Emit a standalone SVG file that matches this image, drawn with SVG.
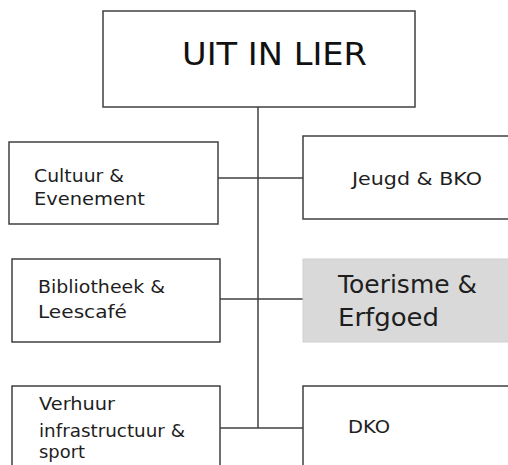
<svg xmlns="http://www.w3.org/2000/svg" width="508" height="465" viewBox="0 0 508 465">
<style>
.box{fill:#ffffff;stroke:#404040;stroke-width:1.5}
.hl{fill:#d9d9d9;stroke:#d0d0d0;stroke-width:1}
.t{font-family:"DejaVu Sans","Liberation Sans",sans-serif;font-size:18.5px;fill:#1e1e1e}
.tb{font-family:"DejaVu Sans","Liberation Sans",sans-serif;font-size:25px;fill:#1e1e1e}
.tt{font-family:"DejaVu Sans","Liberation Sans",sans-serif;font-size:32px;fill:#111111}
.c{fill:none;stroke:#404040;stroke-width:1.5}
</style>
<rect width="508" height="465" fill="#ffffff"/>
<g id="connectors">
<line class="c" x1="258" y1="107" x2="258" y2="428"/>
<line class="c" x1="218" y1="178" x2="303" y2="178"/>
<line class="c" x1="220" y1="299" x2="303" y2="299"/>
<line class="c" x1="220" y1="428" x2="303" y2="428"/>
</g>
<g id="uit-in-lier">
<rect class="box" x="103" y="11" width="312" height="96"/>
<text class="tt" x="182" y="65" textLength="185" lengthAdjust="spacingAndGlyphs">UIT IN LIER</text>
</g>
<g id="cultuur">
<rect class="box" x="9" y="142" width="209" height="82"/>
<text class="t" x="34" y="182" textLength="90" lengthAdjust="spacingAndGlyphs">Cultuur &amp;</text>
<text class="t" x="34" y="205" textLength="111" lengthAdjust="spacingAndGlyphs">Evenement</text>
</g>
<g id="jeugd">
<rect class="box" x="303" y="136" width="215" height="83"/>
<text class="t" x="352" y="185" textLength="130" lengthAdjust="spacingAndGlyphs">Jeugd &amp; BKO</text>
</g>
<g id="bibliotheek">
<rect class="box" x="12" y="259" width="208" height="83"/>
<text class="t" x="38" y="293" textLength="127" lengthAdjust="spacingAndGlyphs">Bibliotheek &amp;</text>
<text class="t" x="38" y="318" textLength="89" lengthAdjust="spacingAndGlyphs">Leescafé</text>
</g>
<g id="toerisme">
<rect class="hl" x="303" y="259" width="215" height="83"/>
<text class="tb" x="338" y="293" textLength="139" lengthAdjust="spacingAndGlyphs">Toerisme &amp;</text>
<text class="tb" x="338" y="326" textLength="101" lengthAdjust="spacingAndGlyphs">Erfgoed</text>
</g>
<g id="verhuur">
<rect class="box" x="12" y="386" width="208" height="90"/>
<text class="t" x="39" y="410" textLength="76" lengthAdjust="spacingAndGlyphs">Verhuur</text>
<text class="t" x="39" y="437" textLength="146" lengthAdjust="spacingAndGlyphs">infrastructuur &amp;</text>
<text class="t" x="39" y="458" textLength="46" lengthAdjust="spacingAndGlyphs">sport</text>
</g>
<g id="dko">
<rect class="box" x="303" y="386" width="215" height="90"/>
<text class="t" x="348" y="433" textLength="42" lengthAdjust="spacingAndGlyphs">DKO</text>
</g>
</svg>
